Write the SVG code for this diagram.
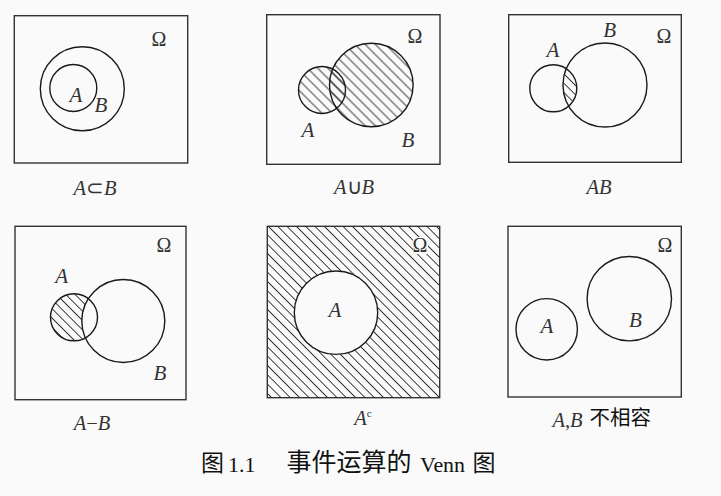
<svg xmlns="http://www.w3.org/2000/svg" width="721" height="496" viewBox="0 0 721 496">
<style>
.bg{fill:#fafafa}
.box{fill:none;stroke:#333;stroke-width:1.4}
.c{fill:none;stroke:#1a1a1a;stroke-width:1.4}
.lab{font-family:"Liberation Serif",serif;font-style:italic;font-size:21px;fill:#333;text-anchor:middle}
.om{font-family:"Liberation Serif",serif;font-size:20px;fill:#333;text-anchor:middle}
.cap{font-family:"Liberation Serif",serif;font-size:20.5px;fill:#333;text-anchor:middle}
.it{font-style:italic}
.cjk{font-family:"Noto Sans CJK SC",sans-serif;fill:#111}
</style>
<defs>
<pattern id="h9" patternUnits="userSpaceOnUse" width="12" height="6.6" patternTransform="rotate(45)">
<line x1="0" y1="3.3" x2="12" y2="3.3" stroke="#222" stroke-width="0.9"/>
</pattern>
<pattern id="h10" patternUnits="userSpaceOnUse" width="12" height="7.2" patternTransform="rotate(45)">
<line x1="0" y1="3.6" x2="12" y2="3.6" stroke="#222" stroke-width="0.9"/>
</pattern>
<clipPath id="clipA3"><circle cx="553.3" cy="88.3" r="23.5"/></clipPath>
<mask id="maskAB4" maskUnits="userSpaceOnUse" x="0" y="0" width="721" height="496">
<circle cx="74" cy="317.3" r="23.5" fill="#fff"/>
<circle cx="123.3" cy="321" r="41.5" fill="#000"/>
</mask>
</defs>
<rect class="bg" x="0" y="0" width="721" height="496"/>

<g id="panel-subset">
<rect class="box" x="14.3" y="15.7" width="173.4" height="147.3"/>
<circle class="c" cx="82.3" cy="88.7" r="42"/>
<circle class="c" cx="73.3" cy="88" r="23.5"/>
<text class="lab" x="76" y="101.5">A</text>
<text class="lab" x="101" y="111.5">B</text>
<text class="om" x="159" y="46">Ω</text>
<text class="cap" x="95" y="195"><tspan class="it">A</tspan>⊂<tspan class="it">B</tspan></text>
</g>

<g id="panel-union">
<rect class="box" x="266.7" y="14.7" width="173.3" height="149.6"/>
<circle cx="322" cy="90" r="23.5" fill="url(#h10)"/>
<circle cx="371.3" cy="85" r="41.8" fill="url(#h10)"/>
<circle class="c" cx="322" cy="90" r="23.5"/>
<circle class="c" cx="371.3" cy="85" r="41.8"/>
<text class="lab" x="308" y="136.5">A</text>
<text class="lab" x="408" y="146.5">B</text>
<text class="om" x="415" y="43.3">Ω</text>
<text class="cap" x="354" y="194"><tspan class="it">A</tspan>∪<tspan class="it">B</tspan></text>
</g>

<g id="panel-intersection">
<rect class="box" x="508.7" y="14.7" width="172.6" height="147.6"/>
<circle cx="605" cy="85" r="42" fill="url(#h9)" clip-path="url(#clipA3)"/>
<circle class="c" cx="553.3" cy="88.3" r="23.5"/>
<circle class="c" cx="605" cy="85" r="42"/>
<text class="lab" x="553" y="56.7">A</text>
<text class="lab" x="609.7" y="36.5">B</text>
<text class="om" x="664" y="42.7">Ω</text>
<text class="cap it" x="599" y="194">AB</text>
</g>

<g id="panel-difference">
<rect class="box" x="15" y="226.3" width="171" height="173.4"/>
<rect x="40" y="280" width="70" height="80" fill="url(#h9)" mask="url(#maskAB4)"/>
<circle class="c" cx="74" cy="317.3" r="23.5"/>
<circle class="c" cx="123.3" cy="321" r="41.5"/>
<text class="lab" x="61.7" y="282.7">A</text>
<text class="lab" x="160" y="380">B</text>
<text class="om" x="164" y="251.7">Ω</text>
<text class="cap" x="92" y="430"><tspan class="it">A</tspan>−<tspan class="it">B</tspan></text>
</g>

<g id="panel-complement">
<rect x="267.3" y="226.3" width="172.4" height="171.4" fill="url(#h9)"/>
<rect class="bg" x="413" y="237" width="15" height="17"/>
<rect class="box" x="267.3" y="226.3" width="172.4" height="171.4"/>
<circle class="c" cx="336" cy="312.7" r="41.7" style="fill:#fafafa"/>
<text class="lab" x="335" y="316.7">A</text>
<text class="om" x="420" y="252">Ω</text>
<text class="cap" x="363" y="425"><tspan class="it">A</tspan><tspan font-size="11" dy="-8.5">c</tspan></text>
</g>

<g id="panel-disjoint">
<rect class="box" x="508" y="226.3" width="173.3" height="170.7"/>
<circle class="c" cx="546.7" cy="329.3" r="30.7"/>
<circle class="c" cx="629.3" cy="298.7" r="42.2"/>
<text class="lab" x="547" y="332.7">A</text>
<text class="lab" x="635.5" y="326.7">B</text>
<text class="om" x="665" y="252.3">Ω</text>
<text class="cap" x="567.5" y="426.7"><tspan class="it">A</tspan>,<tspan class="it">B</tspan></text>
<text class="cjk" x="589.5" y="425" font-size="20.5">不相容</text>
</g>

<g id="figure-caption">
<text class="cjk" x="201" y="471" font-size="23">图</text>
<text x="228" y="471.7" font-family="Liberation Serif, serif" font-size="22" fill="#111">1.1</text>
<text class="cjk" x="286.5" y="471" font-size="25">事件运算的</text>
<text x="420" y="471.7" font-family="Liberation Serif, serif" font-size="22" fill="#111" textLength="45" lengthAdjust="spacingAndGlyphs">Venn</text>
<text class="cjk" x="472.5" y="471" font-size="23">图</text>
</g>
</svg>
